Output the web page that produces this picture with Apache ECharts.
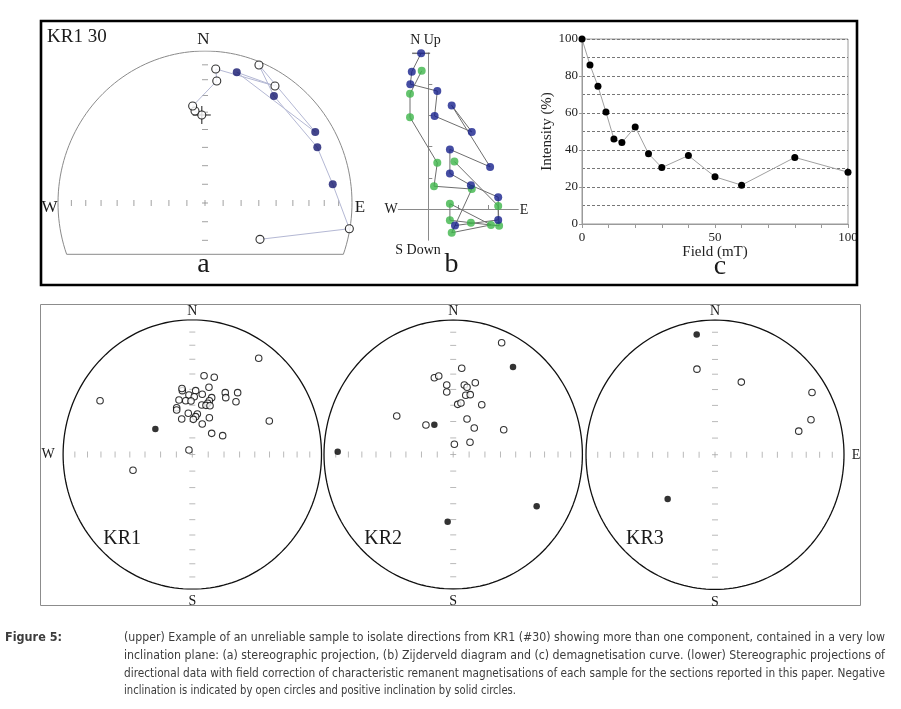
<!DOCTYPE html>
<html><head><meta charset="utf-8">
<script src="https://cdn.jsdelivr.net/npm/echarts@6/dist/echarts.min.js"></script>
<style>html,body{margin:0;padding:0;background:#fff}#c{width:901px;height:709px}</style>
</head><body><div id="c"></div>
<script>
// ---------- DATA ----------
// Demagnetisation steps of sample KR1 #30 (alternating field, mT)
const stepField = [0, 3, 6, 9, 12, 15, 20, 25, 30, 40, 50, 60, 80, 100];
// (c) remaining intensity (%)
const stepIntensity = [100, 86, 74.5, 60.5, 46, 44, 52.5, 38, 30.5, 37, 25.5, 21, 36, 28];
// (a) stereographic positions of each step (east, north in net radii) and polarity of inclination
const aEast  = [-0.022, -0.068, -0.084, 0.080, 0.073, 0.476, 0.216, 0.750, 0.367, 0.469, 0.764, 0.869, 0.982, 0.374];
const aNorth = [0.579, 0.605, 0.638, 0.803, 0.882, 0.770, 0.860, 0.467, 0.908, 0.704, 0.366, 0.123, -0.169, -0.239];
const aPositive = [0, 0, 0, 0, 0, 0, 1, 1, 0, 1, 1, 1, 0, 0];
// (b) Zijderveld: horizontal projection (E, N) and vertical projection (E, Up), arbitrary units
const zEastH = [-0.24, -0.55, -0.60, 0.30, 0.21, 1.45, 0.78, 2.06, 0.72, 0.72, 1.42, 2.33, 2.33, 0.89];
const zNorth = [4.99, 4.40, 4.00, 3.78, 2.98, 2.47, 3.32, 1.35, 1.91, 1.14, 0.76, 0.38, -0.35, -0.53];
const zEastV = [-0.22, -0.61, -0.61, 0.30, 0.19, 1.45, 0.78, 2.09, 0.72, 0.72, 1.42, 2.36, 2.33, 0.87];
const zUp    = [4.43, 3.69, 2.94, 1.48, 0.73, 0.64, -0.76, -0.51, 0.17, -0.36, -0.44, -0.54, 0.10, 1.52];
// (lower) characteristic directions per section, (east, north) in net radii
const kr1Open = [[0.091,0.585],[0.170,0.573],[0.129,0.499],[-0.077,0.474],[-0.080,0.490],[0.026,0.474],[0.255,0.459],[0.351,0.459],[-0.026,0.442],[0.077,0.447],[0.015,0.429],[0.150,0.422],[0.259,0.422],[-0.103,0.405],[-0.051,0.399],[-0.010,0.397],[0.132,0.399],[0.119,0.380],[0.338,0.392],[0.073,0.367],[0.106,0.365],[-0.121,0.347],[-0.121,0.330],[0.137,0.362],[-0.031,0.306],[0.039,0.301],[0.026,0.281],[0.008,0.261],[-0.082,0.264],[0.132,0.273],[0.077,0.226],[0.150,0.157],[0.235,0.140],[-0.026,0.033],[-0.714,0.399],[0.514,0.714],[0.596,0.249],[-0.459,-0.117]];
const kr1Solid = [[-0.286,0.189]];
const kr2Open = [[0.375,0.831],[0.066,0.641],[-0.146,0.571],[-0.112,0.584],[-0.050,0.517],[-0.050,0.465],[0.086,0.517],[0.107,0.500],[0.171,0.534],[0.097,0.440],[0.132,0.445],[0.035,0.373],[0.060,0.383],[0.221,0.370],[-0.437,0.286],[-0.211,0.219],[0.107,0.264],[0.163,0.197],[0.391,0.184],[0.009,0.076],[0.130,0.091]];
const kr2Solid = [[0.463,0.651],[-0.146,0.222],[-0.894,0.021],[0.646,-0.385],[-0.043,-0.500]];
const kr3Open = [[-0.140,0.635],[0.204,0.539],[0.752,0.462],[0.744,0.259],[0.649,0.175]];
const kr3Solid = [[-0.142,0.892],[-0.367,-0.329]];
const sectionNames = ['KR1', 'KR2', 'KR3'];
// equal-area graticule ticks every 10 degrees of inclination
const tickIncl = [10, 20, 30, 40, 50, 60, 70, 80];

// ---------- HELPERS ----------
const SERIF = '"Liberation Serif", "Times New Roman", serif';
const EA = tickIncl.map(i => Math.SQRT2 * Math.sin((90 - i) / 2 * Math.PI / 180));
function arc(a0, a1) {
  const n = Math.ceil(Math.abs(a1 - a0) / 2), pts = [];
  for (let k = 0; k <= n; k++) { const a = (a0 + (a1 - a0) * k / n) * Math.PI / 180; pts.push([Math.cos(a), Math.sin(a)]); }
  return pts;
}
const grids = [], xAxes = [], yAxes = [], series = [];
function netAxes(gi) {
  xAxes.push({gridIndex: gi, type: 'value', min: -1, max: 1, show: false});
  yAxes.push({gridIndex: gi, type: 'value', min: -1, max: 1, show: false});
}
function sc(gi, data, size, color, extra) {
  series.push(Object.assign({type: 'scatter', xAxisIndex: gi, yAxisIndex: gi, data: data, symbol: 'rect',
    symbolSize: size, itemStyle: {color: color}, silent: true, animation: false}, extra || {}));
}
function netFrame(gi, outline, outlineColor, outlineWidth, tickColor, yMinTick) {
  series.push({type: 'line', xAxisIndex: gi, yAxisIndex: gi, data: outline, symbol: 'none', silent: true, animation: false,
    lineStyle: {color: outlineColor, width: outlineWidth}, z: 1});
  const hx = [[0, 0]], vy = [[0, 0]];
  EA.forEach(r => { hx.push([r, 0], [-r, 0]); vy.push([0, r]); if (-r >= yMinTick) vy.push([0, -r]); });
  sc(gi, hx, [1, 6], tickColor, {z: 1});
  sc(gi, vy, [6, 1], tickColor, {z: 1});
}
function dots(gi, open, solid, size, solidColor) {
  sc(gi, open, size, '#fff', {symbol: 'circle', itemStyle: {color: '#fff', borderColor: '#000', borderWidth: 1.1}, z: 3});
  sc(gi, solid, size, solidColor, {symbol: 'circle', z: 3});
}

// ---------- (a) stereonet ----------
grids.push({left: 205 - 147, top: 203 - 152, width: 294, height: 304});
netAxes(0);
const cut = -0.3375;
const t0 = Math.asin(cut) * 180 / Math.PI;
const aOutline = arc(t0, 180 - t0); aOutline.push(aOutline[0]);
netFrame(0, aOutline, '#8a8a8a', 1, '#8a8a8a', cut);
const aPath = aEast.map((e, i) => [e, aNorth[i]]);
series.push({type: 'line', xAxisIndex: 0, yAxisIndex: 0, data: aPath, symbol: 'none', silent: true, animation: false,
  lineStyle: {color: '#b4b8d4', width: 1}, z: 2});
sc(0, [aPath[0]], [18, 1.3], '#222', {z: 2});
sc(0, [aPath[0]], [1.3, 18], '#222', {z: 2});
dots(0, aPath.filter((p, i) => !aPositive[i]), aPath.filter((p, i) => aPositive[i]), 8, '#14166e');

// ---------- (b) Zijderveld ----------
grids.push({left: 398.3, top: 53, width: 120, height: 187.2});
xAxes.push({gridIndex: 1, type: 'value', min: -1, max: 3, interval: 1,
  axisLine: {show: true, onZero: true, lineStyle: {color: '#8a8a8a', width: 1}},
  axisTick: {show: true, inside: true, length: 4, customValues: [1, 2], lineStyle: {color: '#8a8a8a'}},
  axisLabel: {show: false}, splitLine: {show: false}});
yAxes.push({gridIndex: 1, type: 'value', min: -1, max: 5, interval: 1,
  axisLine: {show: true, onZero: true, lineStyle: {color: '#8a8a8a', width: 1}},
  axisTick: {show: true, inside: true, length: 4, customValues: [1, 2, 3, 4], lineStyle: {color: '#8a8a8a'}},
  axisLabel: {show: false}, splitLine: {show: false}});
const zH = zEastH.map((e, i) => [e, zNorth[i]]);
const zV = zEastV.map((e, i) => [e, zUp[i]]);
[zH, zV].forEach(d => series.push({type: 'line', xAxisIndex: 1, yAxisIndex: 1, data: d, symbol: 'none', silent: true,
  animation: false, lineStyle: {color: '#6e6e6e', width: 1}, z: 2}));
sc(1, [zH[0]], [18, 1.5], '#555', {z: 2});
sc(1, zV, 8, '#3db54a', {symbol: 'circle', z: 3});
sc(1, zH, 8, '#17218c', {symbol: 'circle', z: 4});

// ---------- (c) demagnetisation curve ----------
grids.push({left: 582, top: 39, width: 266, height: 185, show: true, borderColor: '#9a9a9a', borderWidth: 1});
xAxes.push({gridIndex: 2, type: 'value', min: 0, max: 100, interval: 10,
  axisLine: {lineStyle: {color: '#9a9a9a'}}, axisTick: {length: 4, lineStyle: {color: '#9a9a9a'}},
  axisLabel: {formatter: v => (v % 50 === 0 ? String(v) : ''), color: '#222', fontFamily: SERIF, fontSize: 13, margin: 7},
  splitLine: {show: false},
  name: 'Field (mT)', nameLocation: 'middle', nameGap: 21, nameTextStyle: {fontFamily: SERIF, fontSize: 15, color: '#222'}});
yAxes.push({gridIndex: 2, type: 'value', min: 0, max: 100, interval: 20,
  axisLine: {show: true, lineStyle: {color: '#9a9a9a'}}, axisTick: {show: true, length: 3, lineStyle: {color: '#9a9a9a'}},
  axisLabel: {color: '#222', fontFamily: SERIF, fontSize: 13, margin: 4},
  splitLine: {lineStyle: {type: [3, 2], color: '#777', width: 1}},
  minorTick: {show: false, splitNumber: 2},
  minorSplitLine: {show: true, lineStyle: {type: [3, 2], color: '#777', width: 1}},
  name: 'Intensity (%)', nameLocation: 'middle', nameGap: 18, nameRotate: 90,
  nameTextStyle: {fontFamily: SERIF, fontSize: 15, color: '#222'}});
series.push({type: 'line', xAxisIndex: 2, yAxisIndex: 2, data: stepField.map((f, i) => [f, stepIntensity[i]]),
  symbol: 'circle', symbolSize: 7, itemStyle: {color: '#000'}, lineStyle: {color: '#a0a0a0', width: 1},
  silent: true, animation: false, z: 3});

// ---------- (lower) three stereonets ----------
const nets = [
  {cx: 192.3, cy: 454.5, rx: 129.2, ry: 134.7, open: kr1Open, solid: kr1Solid},
  {cx: 453.2, cy: 454.5, rx: 129.2, ry: 134.5, open: kr2Open, solid: kr2Solid},
  {cx: 715.0, cy: 454.7, rx: 129.0, ry: 134.7, open: kr3Open, solid: kr3Solid}
];
nets.forEach((n, k) => {
  const gi = 3 + k;
  grids.push({left: n.cx - n.rx, top: n.cy - n.ry, width: 2 * n.rx, height: 2 * n.ry});
  netAxes(gi);
  netFrame(gi, arc(0, 360), '#111', 1.3, '#a8a8a8', -1);
  sc(gi, [[0, 1.02], [0, -1.02]], [1, 5], '#888', {z: 1});
  dots(gi, n.open, n.solid, 6.5, '#000');
});
sc(3, [[-1.025, 0]], [6, 1], '#888', {z: 1});
sc(5, [[1.025, 0]], [6, 1], '#888', {z: 1});

// ---------- texts & frames ----------
function T(text, x, y, size, o) {
  o = o || {};
  return {type: 'text', x: x, y: y, z: 50, style: {text: text, fill: o.fill || '#1a1a1a',
    font: (o.weight || 'normal') + ' ' + size + 'px ' + (o.family || SERIF),
    align: o.align || 'center', verticalAlign: 'middle'}};
}
const mctx = document.createElement('canvas').getContext('2d');
const CAP_FONT = '13px "Liberation Sans Narrow", "DejaVu Sans Condensed", "Liberation Sans", sans-serif';
const CAP_BOLD = 'bold 13px "Liberation Sans Narrow", "DejaVu Sans Condensed", "Liberation Sans", sans-serif';
function fit(text, x, y, width, font) {
  mctx.font = font;
  const w = mctx.measureText(text).width;
  return {type: 'text', x: x, y: y, scaleX: width / w, z: 50,
    style: {text: text, font: font, fill: '#3c3c3c', align: 'left', verticalAlign: 'middle'}};
}
const capLines = [
  '(upper) Example of an unreliable sample to isolate directions from KR1 (#30) showing more than one component, contained in a very low',
  'inclination plane: (a) stereographic projection, (b) Zijderveld diagram and (c) demagnetisation curve. (lower) Stereographic projections of',
  'directional data with field correction of characteristic remanent magnetisations of each sample for the sections reported in this paper. Negative',
  'inclination is indicated by open circles and positive inclination by solid circles.'
];
const capY = [638, 656, 673.5, 691];
const capW = [761, 761, 761, 392];
const capEls = capLines.map((t, i) => fit(t, 124, capY[i], capW[i], CAP_FONT));
capEls.push(fit('Figure 5:', 5, capY[0], 57, CAP_BOLD));

const graphic = [
  {type: 'rect', shape: {x: 41, y: 21, width: 816, height: 264}, style: {fill: 'none', stroke: '#000', lineWidth: 2.6}, z: 40},
  {type: 'rect', shape: {x: 40.5, y: 304.5, width: 820, height: 301}, style: {fill: 'none', stroke: '#8c8c8c', lineWidth: 1}, z: 40},
  T('KR1 30', 47, 37, 19, {align: 'left'}),
  T('N', 203.5, 40, 17), T('W', 49.5, 208, 17), T('E', 360, 208, 17), T('a', 203.5, 265, 28),
  T('N Up', 425.5, 40.5, 14), T('S Down', 418, 250, 14), T('W', 391, 209.5, 14), T('E', 524, 210.5, 14), T('b', 451.5, 265, 28),
  T('c', 720, 267, 28)
];
nets.forEach((n, k) => {
  graphic.push(T('N', n.cx, n.cy - n.ry - 8.5, 14), T('S', n.cx, n.cy + n.ry + 12.5, 14),
    T(sectionNames[k], n.cx - 89, 538.5, 20, {align: 'left'}));
});
graphic.push(T('W', 48, 454.5, 14), T('E', 856, 455, 14));

const chart = echarts.init(document.getElementById('c'), null, {renderer: 'canvas'});
chart.setOption({
  animation: false,
  backgroundColor: '#fff',
  grid: grids, xAxis: xAxes, yAxis: yAxes, series: series,
  graphic: graphic.concat(capEls)
});
</script></body></html>
